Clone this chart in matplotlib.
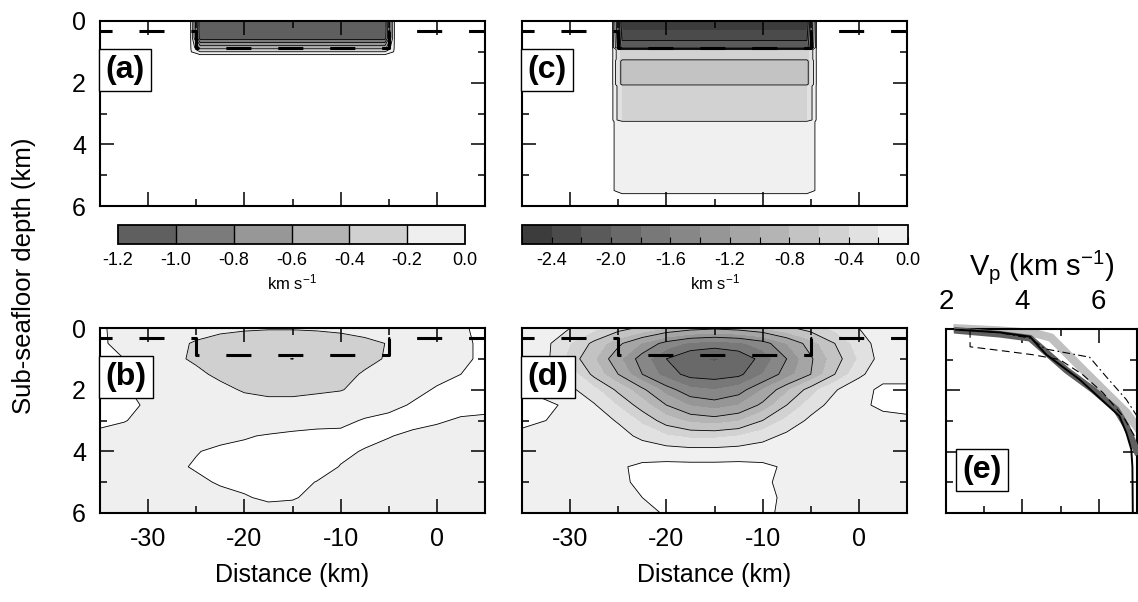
import numpy as np
import matplotlib
matplotlib.use("Agg")
import matplotlib.pyplot as plt
from matplotlib.ticker import MultipleLocator, FixedLocator

plt.rcParams['font.family'] = ['Liberation Sans', 'DejaVu Sans']
plt.rcParams['mathtext.default'] = 'regular'
plt.rcParams['axes.unicode_minus'] = False
plt.rcParams['contour.negative_linestyle'] = 'solid'

# ---------------- data ----------------
dist_nodes = [-35, -32.5, -30, -27.5, -25, -22.5, -20, -17.5, -15, -12.5, -10, -7.5, -5, -2.5, 0, 2.5, 5]
depth_nodes = [0, 0.5, 1.0, 1.5, 2.0, 2.5, 3.0, 3.5, 4.0, 4.5, 5.0, 5.5, 6.0]

# (a) input model: depth profile applied inside the box
box_x = [-35, -25.6, -24.6, -5.4, -4.4, 5]
box_weight = [0, 0, 1, 1, 0, 0]
outside_value = 0.02
profile_a_depth = [0.0, 0.55, 0.95, 1.1, 6.0]
profile_a_value = [-1.15, -1.1, -0.3, 0.02, 0.02]

# (c) input model
profile_c_depth = [0.0, 0.4, 0.86, 0.93, 1.24, 1.30, 2.05, 2.11, 3.21, 3.27, 5.50, 5.62, 6.0]
profile_c_value = [-2.55, -2.35, -2.05, -0.55, -0.55, -0.70, -0.70, -0.45, -0.45, -0.10, -0.10, 0.02, 0.02]

# (b) recovered anomaly (rows = depth_nodes, cols = dist_nodes)
anom_b = [
    [0.02, -0.05, -0.08, -0.10, -0.12, -0.15, -0.17, -0.18, -0.18, -0.17, -0.15, -0.12, -0.10, -0.06, -0.04, -0.01, 0.02],
    [0.02, -0.04, -0.10, -0.15, -0.22, -0.28, -0.32, -0.35, -0.35, -0.33, -0.30, -0.25, -0.19, -0.10, -0.05, -0.02, 0.02],
    [0.02, 0.00, -0.08, -0.16, -0.23, -0.30, -0.35, -0.38, -0.402, -0.35, -0.31, -0.25, -0.18, -0.10, -0.05, -0.02, 0.02],
    [0.03, 0.01, -0.05, -0.10, -0.16, -0.24, -0.30, -0.33, -0.33, -0.31, -0.26, -0.18, -0.12, -0.07, -0.03, 0.00, 0.03],
    [0.03, 0.01, -0.03, -0.07, -0.10, -0.15, -0.22, -0.25, -0.25, -0.23, -0.21, -0.14, -0.07, -0.03, 0.01, 0.03, 0.03],
    [0.03, 0.02, -0.01, -0.05, -0.08, -0.10, -0.12, -0.14, -0.14, -0.12, -0.09, -0.06, -0.03, 0.01, 0.03, 0.03, 0.03],
    [0.02, 0.005, -0.03, -0.05, -0.07, -0.08, -0.08, -0.08, -0.07, -0.05, -0.03, 0.01, 0.03, 0.03, 0.01, -0.01, -0.02],
    [-0.02, -0.04, -0.05, -0.06, -0.05, -0.03, -0.01, 0.01, 0.03, 0.04, 0.03, 0.02, 0.005, -0.02, -0.03, -0.04, -0.04],
    [-0.05, -0.05, -0.05, -0.03, -0.005, 0.02, 0.03, 0.04, 0.04, 0.03, 0.015, -0.005, -0.03, -0.04, -0.05, -0.05, -0.05],
    [-0.05, -0.05, -0.04, -0.02, 0.01, 0.03, 0.04, 0.04, 0.04, 0.03, -0.003, -0.03, -0.05, -0.05, -0.05, -0.05, -0.05],
    [-0.05, -0.05, -0.05, -0.04, -0.02, 0.01, 0.03, 0.03, 0.02, -0.002, -0.03, -0.05, -0.05, -0.05, -0.05, -0.05, -0.05],
    [-0.05, -0.05, -0.05, -0.05, -0.05, -0.03, -0.01, 0.02, 0.01, -0.03, -0.05, -0.05, -0.05, -0.05, -0.05, -0.05, -0.05],
    [-0.05, -0.05, -0.05, -0.05, -0.05, -0.05, -0.05, -0.05, -0.05, -0.05, -0.05, -0.05, -0.05, -0.05, -0.05, -0.05, -0.05],
]

# (d) recovered anomaly
anom_d = [
    [-0.10, -0.12, -0.20, -0.35, -0.50, -0.65, -0.80, -0.90, -0.95, -0.90, -0.80, -0.65, -0.50, -0.35, -0.20, -0.10, -0.05],
    [-0.10, -0.15, -0.40, -0.65, -0.95, -1.22, -1.48, -1.65, -1.70, -1.65, -1.50, -1.20, -0.90, -0.60, -0.30, -0.10, -0.05],
    [-0.10, -0.15, -0.48, -0.78, -1.15, -1.50, -1.80, -1.97, -2.02, -1.95, -1.73, -1.40, -1.03, -0.70, -0.38, -0.10, -0.05],
    [-0.05, -0.10, -0.28, -0.66, -1.00, -1.40, -1.70, -1.87, -1.90, -1.85, -1.60, -1.30, -1.00, -0.60, -0.25, -0.05, -0.05],
    [0.00, -0.02, -0.15, -0.35, -0.65, -0.95, -1.30, -1.55, -1.60, -1.50, -1.20, -0.85, -0.50, -0.22, -0.05, 0.03, 0.03],
    [0.03, 0.01, -0.01, -0.18, -0.42, -0.70, -1.00, -1.22, -1.30, -1.20, -0.95, -0.60, -0.30, -0.12, -0.02, 0.02, 0.03],
    [0.02, 0.00, -0.03, -0.10, -0.22, -0.45, -0.70, -0.85, -0.90, -0.82, -0.60, -0.35, -0.15, -0.08, -0.05, -0.03, -0.02],
    [-0.02, -0.03, -0.05, -0.07, -0.12, -0.25, -0.38, -0.45, -0.45, -0.40, -0.28, -0.15, -0.08, -0.06, -0.05, -0.05, -0.05],
    [-0.05, -0.05, -0.05, -0.05, -0.06, -0.08, -0.10, -0.12, -0.12, -0.10, -0.08, -0.06, -0.05, -0.05, -0.05, -0.05, -0.05],
    [-0.05, -0.05, -0.05, -0.05, -0.02, 0.03, 0.05, 0.05, 0.05, 0.05, 0.03, -0.02, -0.05, -0.05, -0.05, -0.05, -0.05],
    [-0.05, -0.05, -0.05, -0.05, -0.03, 0.03, 0.05, 0.05, 0.05, 0.05, 0.02, -0.03, -0.05, -0.05, -0.05, -0.05, -0.05],
    [-0.05, -0.05, -0.05, -0.05, -0.05, 0.00, 0.04, 0.05, 0.05, 0.05, 0.03, -0.02, -0.05, -0.05, -0.05, -0.05, -0.05],
    [-0.05, -0.05, -0.05, -0.05, -0.05, -0.03, 0.01, 0.04, 0.05, 0.04, 0.02, -0.02, -0.05, -0.05, -0.05, -0.05, -0.05],
]

# seafloor / target box outline
outline_x = [-35, -25, -25, -5, -5, 5]
outline_z = [0.33, 0.33, 0.88, 0.88, 0.33, 0.33]

# contour levels and grey scales
levels_ab = [-1.2, -1.0, -0.8, -0.6, -0.4, -0.2, 0.0]
colors_ab = ['#5f5f5f', '#7b7b7b', '#979797', '#b3b3b3', '#d0d0d0', '#efefef']
lines_ab = [-1.2, -1.0, -0.8, -0.6, -0.4, -0.2, 0.0]
levels_cd = [-2.6, -2.4, -2.2, -2.0, -1.8, -1.6, -1.4, -1.2, -1.0, -0.8, -0.6, -0.4, -0.2, 0.0]
colors_cd = ['#3c3c3c', '#4b4b4b', '#5a5a5a', '#696969', '#787878', '#878787', '#969696',
             '#a5a5a5', '#b4b4b4', '#c3c3c3', '#d2d2d2', '#e1e1e1', '#f0f0f0']
lines_cd = [-2.2, -1.8, -1.4, -1.0, -0.6, -0.2, 0.0]
cbar_a_ticks = [-1.2, -1.0, -0.8, -0.6, -0.4, -0.2, 0.0]
cbar_c_ticks = [-2.4, -2.0, -1.6, -1.2, -0.8, -0.4, 0.0]

# (e) velocity profiles
vp_light_v = [2.30, 3.40, 4.30, 4.75, 5.15, 5.67, 6.28, 6.72, 7.00]
vp_light_z = [-0.02, 0.05, 0.13, 0.28, 0.78, 1.43, 2.18, 2.72, 3.20]
vp_dark_v = [2.30, 3.40, 4.20, 4.55, 5.15, 5.85, 6.46, 6.72, 6.94, 7.00]
vp_dark_z = [0.05, 0.17, 0.30, 0.68, 1.34, 1.98, 2.63, 3.16, 3.81, 4.00]
vp_black_v = [2.25, 3.40, 4.20, 4.45, 4.63, 5.50, 6.54, 6.72, 6.85, 6.88, 6.89]
vp_black_z = [0.02, 0.11, 0.25, 0.60, 0.84, 1.65, 2.84, 3.38, 3.92, 4.50, 6.00]
vp_dash_v = [2.63, 2.63, 3.41, 4.28, 4.98, 5.58, 6.11, 6.63, 6.94, 7.00]
vp_dash_z = [0.03, 0.58, 0.70, 0.84, 1.00, 1.49, 2.08, 2.84, 3.50, 3.60]
vp_dd_v = [2.63, 3.40, 4.20, 4.60, 5.76, 6.19, 6.72, 7.00]
vp_dd_z = [0.03, 0.12, 0.30, 0.65, 0.92, 1.55, 2.30, 2.84]

# ---------------- figure ----------------
W, H = 1138, 602
fig = plt.figure(figsize=(W / 100, H / 100), dpi=100)


def px_axes(l, t, r, b):
    return fig.add_axes([l / W, 1 - b / H, (r - l) / W, (b - t) / H])


depth_nodes_fine = sorted(set(profile_a_depth) | set(profile_c_depth) | set(depth_nodes))


def box_field(profile_depth, profile_value):
    prof = np.interp(depth_nodes_fine, profile_depth, profile_value)
    w = np.array(box_weight, dtype=float)
    return np.outer(prof, w) + np.outer(np.ones_like(prof), 1 - w) * outside_value


TICK_FS = 18
LW_FRAME = 1.5


def style(ax, xlab, ylab):
    ax.set_xlim(-35, 5)
    ax.set_ylim(6, 0)
    ax.xaxis.set_major_locator(MultipleLocator(10))
    ax.xaxis.set_minor_locator(MultipleLocator(5))
    ax.yaxis.set_major_locator(MultipleLocator(2))
    ax.yaxis.set_minor_locator(MultipleLocator(1))
    ax.tick_params(which='both', direction='in', top=True, right=True, width=1.1,
                   labelsize=TICK_FS, pad=10)
    ax.tick_params(which='major', length=10)
    ax.tick_params(which='minor', length=5)
    ax.tick_params(labelbottom=xlab, labelleft=ylab)
    for s in ax.spines.values():
        s.set_linewidth(LW_FRAME)
    if xlab:
        ax.set_xlabel('Distance (km)', fontsize=18, labelpad=9)


def panel_label(ax, txt, x=0.014, y=0.735):
    ax.text(x, y, txt, transform=ax.transAxes, ha='left', va='center', fontsize=23,
            fontweight='bold', zorder=10,
            bbox=dict(boxstyle='square,pad=0.2', fc='white', ec='black', lw=1.0))


def outline(ax):
    lw = 2.2
    ax.plot(outline_x, outline_z, color='black', lw=lw,
            linestyle=(4.25, (8.2, 8.8)), zorder=6, dash_capstyle='butt')


X, Z = np.meshgrid(dist_nodes, depth_nodes)
BX, BZ = np.meshgrid(box_x, depth_nodes_fine)

ax_a = px_axes(100, 21, 485, 206)
ax_c = px_axes(522, 21, 907, 206)
ax_b = px_axes(100, 328, 485, 513)
ax_d = px_axes(522, 328, 907, 513)

field_a = box_field(profile_a_depth, profile_a_value)
field_c = box_field(profile_c_depth, profile_c_value)

cs_a = ax_a.contourf(BX, BZ, field_a, levels=levels_ab, colors=colors_ab)
ax_a.contour(BX, BZ, field_a, levels=lines_ab, colors='black', linewidths=0.6)
cs_c = ax_c.contourf(BX, BZ, field_c, levels=levels_cd, colors=colors_cd)
ax_c.contour(BX, BZ, field_c, levels=lines_cd, colors='black', linewidths=0.6)
ax_b.contourf(X, Z, np.array(anom_b), levels=levels_ab, colors=colors_ab)
ax_b.contour(X, Z, np.array(anom_b), levels=lines_ab, colors='black', linewidths=0.6)
ax_d.contourf(X, Z, np.array(anom_d), levels=levels_cd, colors=colors_cd)
ax_d.contour(X, Z, np.array(anom_d), levels=lines_cd, colors='black', linewidths=0.6)

for ax, lab, xl, yl in [(ax_a, '(a)', False, True), (ax_c, '(c)', False, False),
                        (ax_b, '(b)', True, True), (ax_d, '(d)', True, False)]:
    style(ax, xl, yl)
    outline(ax)
    panel_label(ax, lab)

# colorbars
CB_FS = 13
cax_a = px_axes(118, 225, 465, 244)
cb_a = fig.colorbar(cs_a, cax=cax_a, orientation='horizontal', ticks=cbar_a_ticks,
                    drawedges=True)
cb_a.dividers.set_linewidth(1.0)
cb_a.outline.set_linewidth(1.3)
cax_a.tick_params(length=0, labelsize=CB_FS, pad=6)
cax_a.set_xticklabels(['%.1f' % t for t in cbar_a_ticks])
cb_a.set_label('km s$^{-1}$', fontsize=12, labelpad=2)

cax_c = px_axes(522, 225, 908, 244)
cb_c = fig.colorbar(cs_c, cax=cax_c, orientation='horizontal', ticks=cbar_c_ticks)
cb_c.outline.set_linewidth(1.3)
cax_c.xaxis.set_minor_locator(FixedLocator(levels_cd))
cax_c.tick_params(which='both', direction='in', length=5, width=0.8, labelsize=CB_FS, pad=6)
cax_c.set_xticklabels(['%.1f' % t for t in cbar_c_ticks])
cb_c.set_label('km s$^{-1}$', fontsize=12, labelpad=2)

# (e) profiles
ax_e = px_axes(946, 329, 1137, 513)
ax_e.plot(vp_light_v, vp_light_z, color='#c0c0c0', lw=6, solid_joinstyle='round',
          clip_on=False, zorder=2)
ax_e.plot(vp_dark_v, vp_dark_z, color='#606060', lw=4.8, solid_joinstyle='round',
          clip_on=False, zorder=3)
ax_e.plot(vp_dash_v, vp_dash_z, color='black', lw=0.8, linestyle=(0, (7, 4)), zorder=4)
ax_e.plot(vp_dd_v, vp_dd_z, color='black', lw=0.8, linestyle=(0, (7, 3, 1.5, 3)), zorder=4)
ax_e.plot(vp_black_v, vp_black_z, color='black', lw=1.4, zorder=5)
ax_e.set_xlim(2, 7)
ax_e.set_ylim(6, 0)
ax_e.xaxis.set_major_locator(MultipleLocator(2))
ax_e.xaxis.set_minor_locator(MultipleLocator(1))
ax_e.yaxis.set_major_locator(MultipleLocator(2))
ax_e.yaxis.set_minor_locator(MultipleLocator(1))
ax_e.tick_params(which='both', direction='in', top=True, right=True, bottom=True,
                 labeltop=True, labelbottom=False, labelleft=False, width=1.1,
                 labelsize=20, pad=10)
ax_e.tick_params(which='major', length=10)
ax_e.tick_params(which='minor', length=5)
for s in ax_e.spines.values():
    s.set_linewidth(LW_FRAME)
ax_e.xaxis.set_label_position('top')
ax_e.set_xlabel('V$_p$ (km s$^{-1}$)', fontsize=21, labelpad=10)
panel_label(ax_e, '(e)', x=0.085, y=0.234)

fig.text(24 / W, 1 - 276 / H, 'Sub-seafloor depth (km)', rotation=90, ha='center',
         va='center', fontsize=18.5)

fig.savefig('out.png', dpi=100)
